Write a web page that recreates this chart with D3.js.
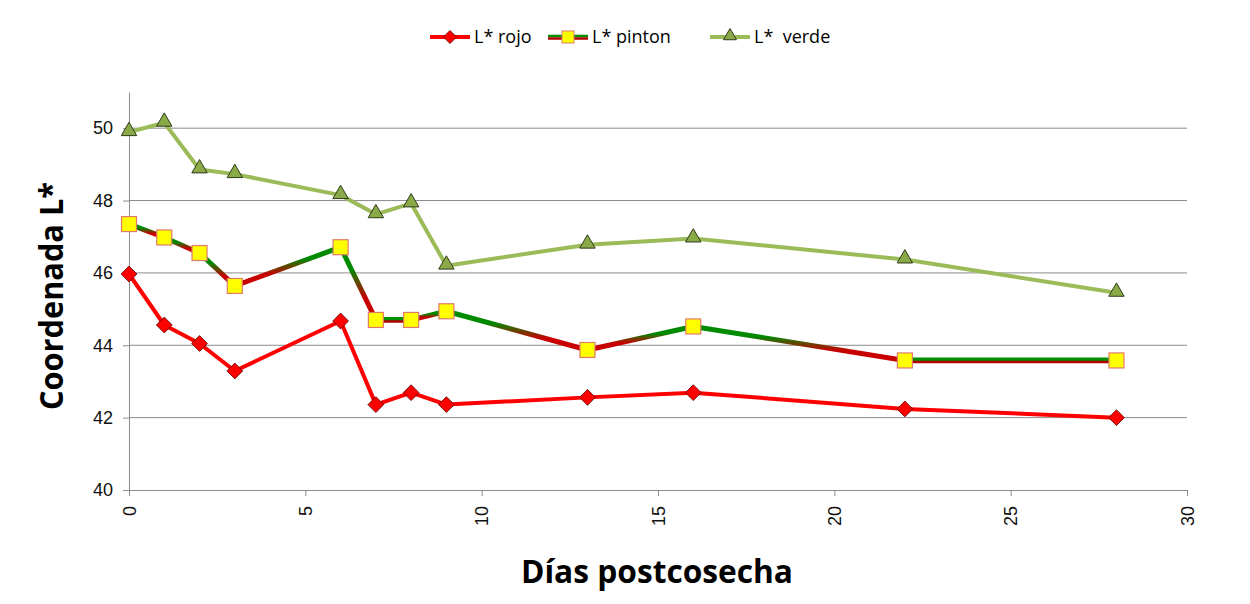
<!DOCTYPE html>
<html>
<head>
<meta charset="utf-8">
<script src="https://cdn.jsdelivr.net/npm/d3@7"></script>
<style>
  body { margin: 0; background: #fff; }
  svg { font-family: "Open Sans", Lato, sans-serif; }
</style>
</head>
<body>
<svg width="1250" height="604"></svg>
<script>
// ---- Datos
const dias = [0, 1, 2, 3, 6, 7, 8, 9, 13, 16, 22, 28];
const rojo = [45.97, 44.56, 44.05, 43.29, 44.67, 42.36, 42.69, 42.36, 42.56, 42.69, 42.24, 42.0];
const pinton = [47.35, 46.98, 46.55, 45.64, 46.71, 44.7, 44.7, 44.94, 43.87, 44.52, 43.58, 43.58];
const verde = [49.89, 50.15, 48.86, 48.73, 48.15, 47.62, 47.92, 46.2, 46.78, 46.95, 46.37, 45.45];
const xTicks = [0, 5, 10, 15, 20, 25, 30];
const yTicks = [40, 42, 44, 46, 48, 50];
const nombres = ['L* rojo', 'L* pinton', 'L*  verde'];

const margens = { left: 129, right: 63, top: 92, bottom: 114 };
const svg = d3.select('svg');
const width = 1250 - margens.left - margens.right;
const height = 604 - margens.top - margens.bottom;

// ---- Escalas
const mapX = d3.scaleLinear().domain([0, 30]).range([0, width]);
const mapY = d3.scaleLinear().domain([40, 51]).range([height, 0]);

const g = svg.append('g').attr('transform', `translate(${margens.left}, ${margens.top})`);
const defs = svg.append('defs');

// ---- Grid
g.selectAll('.grid').data(yTicks.filter(t => t > 40)).join('line')
  .attr('x1', 0).attr('x2', width)
  .attr('y1', d => mapY(d)).attr('y2', d => mapY(d))
  .attr('stroke', '#8c8c8c').attr('stroke-width', 1);

// ---- Eixos
const axisX = g.append('g')
  .attr('transform', `translate(0, ${height})`)
  .call(d3.axisBottom(mapX).tickValues(xTicks).tickSize(6).tickSizeOuter(0));
axisX.select('.domain').attr('stroke', '#8c8c8c');
axisX.selectAll('.tick line').attr('stroke', '#8c8c8c');
axisX.selectAll('.tick text')
  .attr('transform', 'rotate(-90)')
  .attr('x', -16).attr('y', 0).attr('dy', '0.35em')
  .style('text-anchor', 'end')
  .style('font-size', '18px').attr('fill', '#111');

const axisY = g.append('g')
  .call(d3.axisLeft(mapY).tickValues(yTicks).tickSize(6).tickSizeOuter(0).tickPadding(10));
axisY.select('.domain').attr('stroke', '#8c8c8c');
axisY.selectAll('.tick line').attr('stroke', '#8c8c8c');
axisY.selectAll('.tick text').style('font-size', '18px').attr('fill', '#111');

// títulos
svg.append('text')
  .attr('x', 657).attr('y', 583)
  .style('text-anchor', 'middle')
  .style('font-size', '33px').style('font-weight', 'bold')
  .attr('textLength', 272).attr('lengthAdjust', 'spacingAndGlyphs')
  .text('Días postcosecha');

svg.append('text')
  .attr('transform', 'rotate(-90)')
  .attr('x', -296).attr('y', 63)
  .style('text-anchor', 'middle')
  .style('font-size', '33px').style('font-weight', 'bold')
  .attr('textLength', 228).attr('lengthAdjust', 'spacingAndGlyphs')
  .text('Coordenada L*');

// ---- Linhas
const line = d3.line().x(d => mapX(d[0])).y(d => mapY(d[1]));
const pts = arr => dias.map((d, i) => [d, arr[i]]);

// verde
g.append('path').datum(pts(verde))
  .attr('d', line).attr('fill', 'none')
  .attr('stroke', '#9bbb59').attr('stroke-width', 4).attr('stroke-linejoin', 'round');

// pinton: segmentos con gradiente verde (arriba) / rojo oscuro (abajo)
const pp = pts(pinton);
for (let i = 0; i < pp.length - 1; i++) {
  const a = pp[i], b = pp[i + 1];
  const y1 = mapY(a[1]), y2 = mapY(b[1]);
  if (Math.abs(y2 - y1) > 4) {
    const id = 'grad' + i;
    const top = Math.min(y1, y2), bot = Math.max(y1, y2);
    const gr = defs.append('linearGradient').attr('id', id)
      .attr('gradientUnits', 'userSpaceOnUse')
      .attr('x1', 0).attr('x2', 0)
      .attr('y1', top).attr('y2', bot);
    gr.append('stop').attr('offset', '0.3').attr('stop-color', '#008a00');
    gr.append('stop').attr('offset', '0.7').attr('stop-color', '#c80000');
    g.append('path').datum([a, b]).attr('d', line)
      .attr('stroke', `url(#${id})`).attr('stroke-width', 5).attr('fill', 'none')
      .attr('stroke-linecap', 'round');
  } else {
    g.append('path').datum([a, b]).attr('d', line)
      .attr('stroke', '#009000').attr('stroke-width', 5).attr('fill', 'none')
      .attr('transform', 'translate(0,-0.5)');
    g.append('path').datum([a, b]).attr('d', line)
      .attr('stroke', '#b00000').attr('stroke-width', 2.5).attr('fill', 'none')
      .attr('transform', 'translate(0,1.5)');
  }
}

// rojo
g.append('path').datum(pts(rojo))
  .attr('d', line).attr('fill', 'none')
  .attr('stroke', '#ff0000').attr('stroke-width', 4).attr('stroke-linejoin', 'round');

// ---- Marcadores
const diamond = d3.symbol().type(d3.symbolDiamond2).size(160);
const tri = d3.symbol().type(d3.symbolTriangle2).size(170);

g.selectAll('.tri').data(pts(verde)).join('path')
  .attr('d', tri)
  .attr('transform', d => `translate(${mapX(d[0])}, ${mapY(d[1]) - 1})`)
  .attr('fill', '#8aaa48').attr('stroke', '#2f3a1a').attr('stroke-width', 1);

g.selectAll('.sq').data(pp).join('rect')
  .attr('x', d => mapX(d[0]) - 7.5).attr('y', d => mapY(d[1]) - 7.5)
  .attr('width', 15).attr('height', 15)
  .attr('fill', '#ffff00').attr('stroke', '#e07a6a').attr('stroke-width', 1.2);

g.selectAll('.dia').data(pts(rojo)).join('path')
  .attr('d', diamond)
  .attr('transform', d => `translate(${mapX(d[0])}, ${mapY(d[1])})`)
  .attr('fill', '#ff0000').attr('stroke', '#5a0000').attr('stroke-width', 0.8);

// ---- Legenda
const leg = svg.append('g').attr('transform', 'translate(0, 37)');
const legX = [430, 548, 710];

// rojo
leg.append('line').attr('x1', legX[0]).attr('x2', legX[0] + 40).attr('y1', 0).attr('y2', 0)
  .attr('stroke', '#ff0000').attr('stroke-width', 4);
leg.append('path').attr('d', d3.symbol().type(d3.symbolDiamond2).size(110))
  .attr('transform', `translate(${legX[0] + 20}, 0)`)
  .attr('fill', '#ff0000').attr('stroke', '#5a0000').attr('stroke-width', 0.8);
// pinton
leg.append('line').attr('x1', legX[1]).attr('x2', legX[1] + 40).attr('y1', -1).attr('y2', -1)
  .attr('stroke', '#009000').attr('stroke-width', 2.5);
leg.append('line').attr('x1', legX[1]).attr('x2', legX[1] + 40).attr('y1', 1.5).attr('y2', 1.5)
  .attr('stroke', '#b00000').attr('stroke-width', 2.5);
leg.append('rect').attr('x', legX[1] + 14).attr('y', -6).attr('width', 12).attr('height', 12)
  .attr('fill', '#ffff00').attr('stroke', '#e07a6a');
// verde
leg.append('line').attr('x1', legX[2]).attr('x2', legX[2] + 40).attr('y1', 0).attr('y2', 0)
  .attr('stroke', '#9bbb59').attr('stroke-width', 4);
leg.append('path').attr('d', d3.symbol().type(d3.symbolTriangle2).size(120))
  .attr('transform', `translate(${legX[2] + 20}, -1)`)
  .attr('fill', '#8aaa48').attr('stroke', '#2f3a1a');

leg.selectAll('.lt').data(nombres).join('text')
  .attr('x', (d, i) => legX[i] + 44).attr('y', 0).attr('dy', '0.35em')
  .style('font-size', '18px').attr('fill', '#000')
  .style('white-space', 'pre').attr('xml:space', 'preserve')
  .text(d => d);
</script>
</body>
</html>
